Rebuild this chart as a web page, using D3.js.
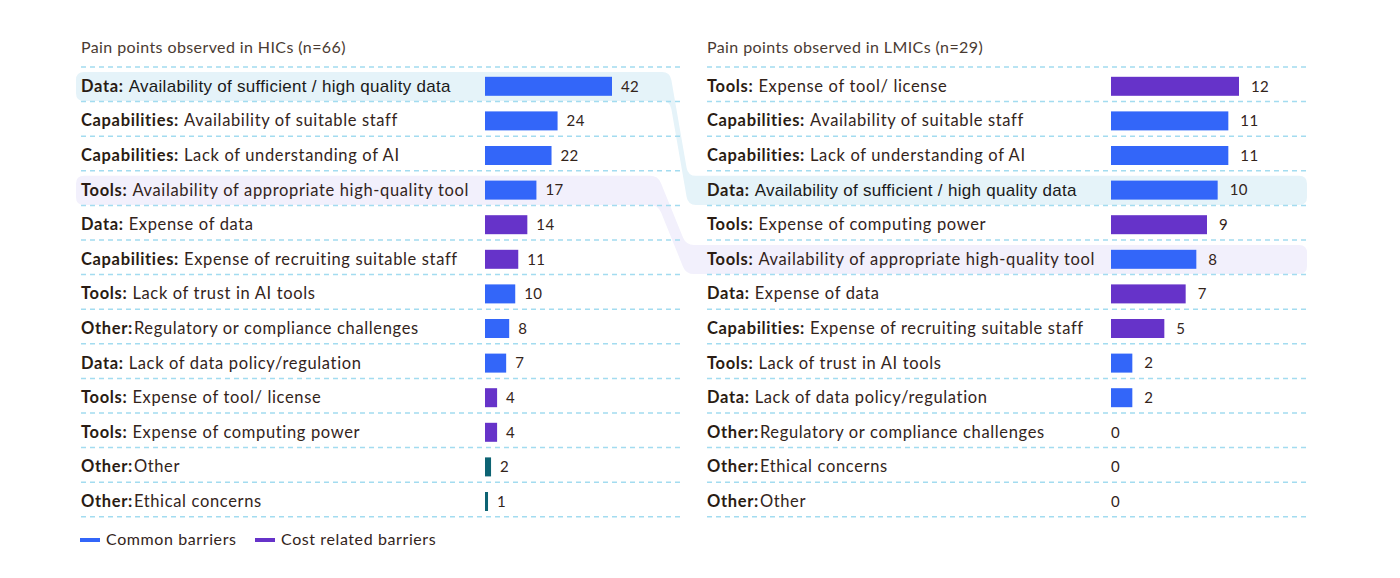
<!DOCTYPE html>
<html>
<head>
<meta charset="utf-8">
<script src="https://cdn.jsdelivr.net/npm/d3@7"></script>
<style>
  body { margin: 0; background: #fff; }
  text { font-family: Lato, "Noto Sans", sans-serif; fill: #33241b; }
</style>
</head>
<body>
<script>
//HIC panel data (order as shown)
var hicCats = ["Data", "Capabilities", "Capabilities", "Tools", "Data", "Capabilities", "Tools", "Other", "Data", "Tools", "Tools", "Other", "Other"];
var hicItems = ["Availability of sufficient / high quality data", "Availability of suitable staff", "Lack of understanding of AI",
    "Availability of appropriate high-quality tool", "Expense of data", "Expense of recruiting suitable staff",
    "Lack of trust in AI tools", "Regulatory or compliance challenges", "Lack of data policy/regulation",
    "Expense of tool/ license", "Expense of computing power", "Other", "Ethical concerns"];
var hicValues = [42, 24, 22, 17, 14, 11, 10, 8, 7, 4, 4, 2, 1];
var hicTypes = ["common", "common", "common", "common", "cost", "cost", "common", "common", "common", "cost", "cost", "other", "other"];

//LMIC panel data
var lmicCats = ["Tools", "Capabilities", "Capabilities", "Data", "Tools", "Tools", "Data", "Capabilities", "Tools", "Data", "Other", "Other", "Other"];
var lmicItems = ["Expense of tool/ license", "Availability of suitable staff", "Lack of understanding of AI",
    "Availability of sufficient / high quality data", "Expense of computing power", "Availability of appropriate high-quality tool",
    "Expense of data", "Expense of recruiting suitable staff", "Lack of trust in AI tools", "Lack of data policy/regulation",
    "Regulatory or compliance challenges", "Ethical concerns", "Other"];
var lmicValues = [12, 11, 11, 10, 9, 8, 7, 5, 2, 2, 0, 0, 0];
var lmicTypes = ["cost", "common", "common", "common", "cost", "common", "cost", "cost", "common", "common", "other", "other", "other"];

var titles = ["Pain points observed in HICs (n=66)", "Pain points observed in LMICs (n=29)"];
var legendLabels = ["Common barriers", "Cost related barriers"];

var colors = { common: "#3366f9", cost: "#6633c9", other: "#0d6373" };

var w = 1400, h = 578;
var svg = d3.select("body").append("svg").attr("width", w).attr("height", h);

//shared row scale
var y = d3.scaleBand().domain(d3.range(13)).range([67, 516.8]);

var panels = [
    { cats: hicCats, items: hicItems, values: hicValues, types: hicTypes, left: 81, right: 680,
      x: d3.scaleLinear().domain([0, 42]).range([485, 612]), gap: 9, title: titles[0] },
    { cats: lmicCats, items: lmicItems, values: lmicValues, types: lmicTypes, left: 707, right: 1307,
      x: d3.scaleLinear().domain([0, 12]).range([1111, 1239]), gap: 12, title: titles[1] }
];

//rounded polygon helper
function roundedPath(pts, r){
    var n = pts.length, d = "";
    for (var i = 0; i < n; i++){
        var p = pts[i], a = pts[(i - 1 + n) % n], b = pts[(i + 1) % n];
        var la = Math.hypot(a[0] - p[0], a[1] - p[1]), lb = Math.hypot(b[0] - p[0], b[1] - p[1]);
        var ra = Math.min(r, la / 2), rb = Math.min(r, lb / 2);
        var p1 = [p[0] + (a[0] - p[0]) * ra / la, p[1] + (a[1] - p[1]) * ra / la];
        var p2 = [p[0] + (b[0] - p[0]) * rb / lb, p[1] + (b[1] - p[1]) * rb / lb];
        d += (i === 0 ? "M" : "L") + p1[0] + "," + p1[1] + "Q" + p[0] + "," + p[1] + " " + p2[0] + "," + p2[1];
    }
    return d + "Z";
}

//highlight connectors (left row index -> right row index)
var links = [
    { from: 0, to: 3, xL: 670, xR: 688, fill: "#e5f3f9" },
    { from: 3, to: 5, xL: 658, xR: 686, fill: "#f2f0fc" }
];
links.forEach(function(l){
    var t1 = y(l.from) + 5, b1 = y(l.from) + y.bandwidth() - 0.5;
    var t2 = y(l.to) + 5, b2 = y(l.to) + y.bandwidth() - 0.5;
    var pts = [[76, t1], [l.xL, t1], [l.xR, t2], [1307, t2], [1307, b2], [l.xR, b2], [l.xL, b1], [76, b1]];
    svg.append("path").attr("d", roundedPath(pts, 8)).style("fill", l.fill);
});

panels.forEach(function(p){
    var g = svg.append("g");

    g.append("text")
        .attr("x", p.left).attr("y", 53)
        .style("font-size", "16px").style("letter-spacing", "0.4px").style("fill", "#4a3b32")
        .text(p.title);

    //dashed separators
    g.selectAll(".sep")
        .data(d3.range(14))
        .enter()
        .append("line")
        .attr("x1", p.left).attr("x2", p.right)
        .attr("y1", function(d){ return y(0) + d * y.step(); })
        .attr("y2", function(d){ return y(0) + d * y.step(); })
        .style("stroke", "#a3dcf0").style("stroke-width", 1.5)
        .style("stroke-dasharray", "5,4");

    var rows = p.values.map(function(v, i){
        return { v: v, cat: p.cats[i], item: p.items[i], type: p.types[i], i: i };
    });

    //labels
    var labels = g.selectAll(".lab")
        .data(rows)
        .enter()
        .append("text")
        .attr("x", p.left)
        .attr("y", function(d){ return y(d.i) + y.bandwidth() / 2 + 3.5; })
        .attr("dominant-baseline", "middle")
        .style("font-size", "16.5px")
        .style("letter-spacing", "0.65px");
    labels.append("tspan")
        .style("font-weight", "bold")
        .style("fill", "#2a1c13")
        .text(function(d){ return d.cat + ":"; });
    labels.append("tspan")
        .attr("dx", function(d){ return d.cat === "Other" ? 1 : 5; })
        .style("font-family", function(d){
            return d.item.indexOf("sufficient") >= 0 ? "'Liberation Sans', Arial, sans-serif" : null;
        })
        .style("font-size", function(d){ return d.item.indexOf("sufficient") >= 0 ? "17px" : null; })
        .style("letter-spacing", function(d){ return d.item.indexOf("sufficient") >= 0 ? "0.3px" : null; })
        .style("fill", function(d){ return d.item.indexOf("sufficient") >= 0 ? "#1a1a1a" : null; })
        .text(function(d){ return d.item; });

    //bars
    g.selectAll(".bar")
        .data(rows.filter(function(d){ return d.v > 0; }))
        .enter()
        .append("rect")
        .attr("x", p.x(0))
        .attr("y", function(d){ return y(d.i) + y.bandwidth() / 2 - 9.5 + 2; })
        .attr("width", function(d){ return p.x(d.v) - p.x(0); })
        .attr("height", 19)
        .style("fill", function(d){ return colors[d.type]; });

    //value labels
    g.selectAll(".val")
        .data(rows)
        .enter()
        .append("text")
        .attr("x", function(d){ return p.x(d.v) + (d.v > 0 ? p.gap : 0); })
        .attr("y", function(d){ return y(d.i) + y.bandwidth() / 2 + 3.5; })
        .attr("dominant-baseline", "middle")
        .style("font-size", "15px")
        .style("letter-spacing", "0.4px")
        .text(function(d){ return d.v; });
});

//legend
var legend = svg.append("g").attr("transform", "translate(80,540)");
[["common", 0], ["cost", 175]].forEach(function(e, i){
    legend.append("line")
        .attr("x1", e[1]).attr("x2", e[1] + 20)
        .style("stroke", colors[e[0]]).style("stroke-width", 4);
    legend.append("text")
        .attr("x", e[1] + 26).attr("y", 1)
        .attr("dominant-baseline", "middle")
        .style("font-size", "16px")
        .style("letter-spacing", "0.6px")
        .text(legendLabels[i]);
});
</script>
</body>
</html>
